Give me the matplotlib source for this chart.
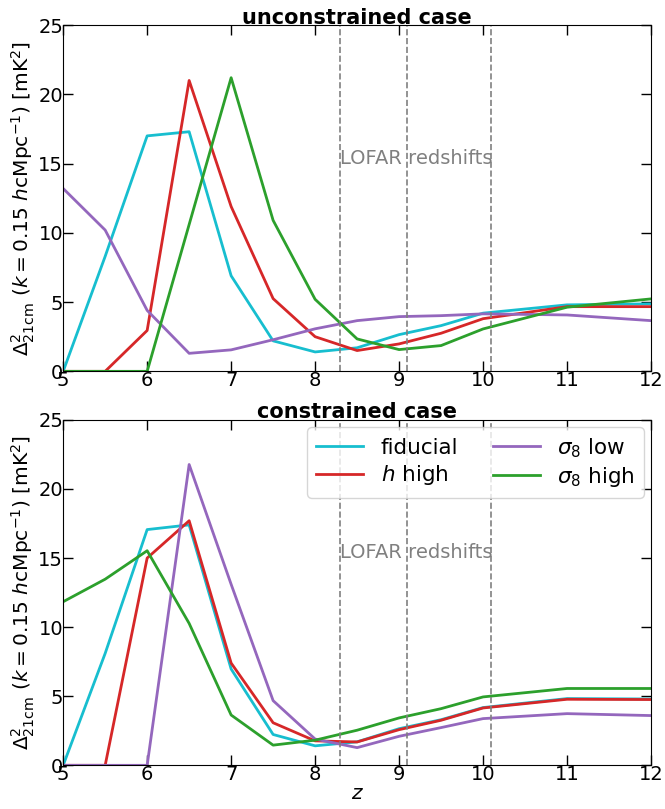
import numpy as np
import matplotlib
matplotlib.use('Agg')
import matplotlib.pyplot as plt

fontsize = 14.5

z = [5, 5.5, 6, 6.5, 7, 7.5, 8, 8.5, 9, 9.5, 10, 11, 12]

# unconstrained case
unc_fiducial = [0, 8.3, 17.0, 17.3, 6.9, 2.2, 1.4, 1.7, 2.65, 3.3, 4.2, 4.8, 4.87]
unc_h_high   = [0, 0, 2.95, 21.0, 11.9, 5.25, 2.5, 1.5, 1.98, 2.75, 3.8, 4.67, 4.67]
unc_s8_low   = [13.2, 10.2, 4.4, 1.3, 1.55, 2.28, 3.07, 3.66, 3.95, 4.02, 4.15, 4.07, 3.66]
unc_s8_high  = [0, 0, 0, 10.6, 21.2, 10.9, 5.2, 2.34, 1.57, 1.86, 3.06, 4.63, 5.23]

# constrained case
con_fiducial = [0, 8.1, 17.06, 17.4, 6.97, 2.23, 1.41, 1.7, 2.65, 3.3, 4.18, 4.83, 4.8]
con_h_high   = [0, 0, 15.0, 17.7, 7.4, 3.08, 1.77, 1.69, 2.58, 3.26, 4.15, 4.78, 4.76]
con_s8_low   = [0, 0, 0, 21.77, 13.1, 4.68, 1.9, 1.28, 2.1, 2.73, 3.38, 3.74, 3.6]
con_s8_high  = [11.84, 13.47, 15.53, 10.27, 3.64, 1.46, 1.82, 2.54, 3.43, 4.1, 4.95, 5.56, 5.56]

lofar_z = [8.3, 9.1, 10.1]

labels = ['fiducial', r'$h$ high', r'$\sigma_8$ low', r'$\sigma_8$ high']
colors = ['tab:cyan', 'tab:red', 'tab:purple', 'tab:green']

fig = plt.figure(figsize=(6.65, 8.09), dpi=100)
ax0 = fig.add_axes([0.095, 0.541, 0.884, 0.428])
ax1 = fig.add_axes([0.095, 0.054, 0.884, 0.427])

ylabel = r'$\Delta^2_{\rm 21cm}$ $(k = 0.15\ h{\rm cMpc}^{-1})$ [mK$^2$]'

panels = [
    (ax0, 'unconstrained case', [unc_fiducial, unc_h_high, unc_s8_low, unc_s8_high]),
    (ax1, 'constrained case', [con_fiducial, con_h_high, con_s8_low, con_s8_high]),
]

for ax, title, series in panels:
    for y, lab, c in zip(series, labels, colors):
        ax.plot(z, y, color=c, lw=2, label=lab)
    for zl in lofar_z:
        ax.axvline(zl, color='gray', ls='--', lw=1.2)
    ax.text(8.3, 15.4, 'LOFAR redshifts', color='gray', fontsize=14,
            ha='left', va='center')
    ax.set_xlim(5, 12)
    ax.set_ylim(0, 25)
    ax.set_xticks([5, 6, 7, 8, 9, 10, 11, 12])
    ax.set_yticks([0, 5, 10, 15, 20, 25])
    ax.set_title(title, fontsize=15, fontweight='bold', pad=1)
    ax.set_ylabel(ylabel, fontsize=fontsize, labelpad=1)
    ax.tick_params(direction='in', length=7, width=1, top=True, right=True,
                   labelsize=14, pad=0)

ax1.set_xlabel(r'$z$', fontsize=fontsize, labelpad=0)
ax1.legend(loc='upper right', ncol=2, fontsize=15.5, handlelength=2.2,
           columnspacing=1.6, borderaxespad=0.35, labelspacing=0.25)

plt.savefig('out.png', dpi=100)
